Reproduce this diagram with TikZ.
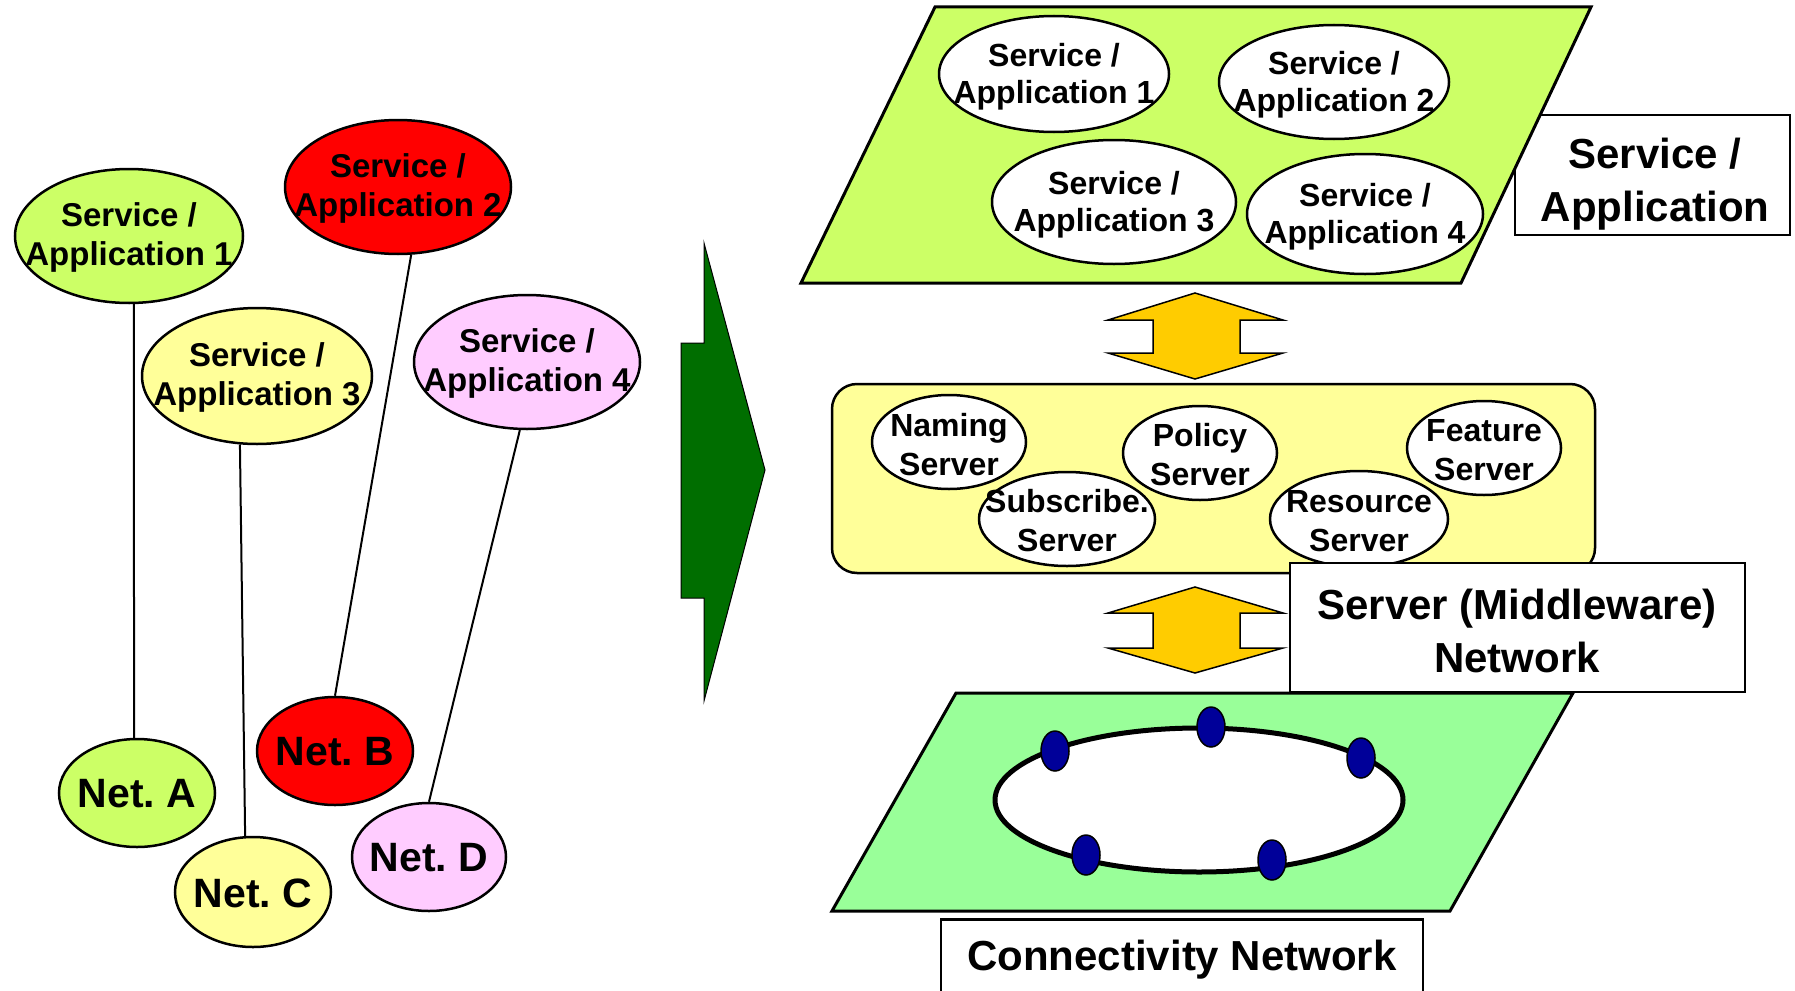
\documentclass[tikz,border=0pt]{standalone}
\usepackage{fontspec}
\setmainfont{Liberation Sans}
\usetikzlibrary{shapes.geometric}
\definecolor{limefill}{HTML}{CCFF66}
\definecolor{redfill}{HTML}{FF0000}
\definecolor{creamfill}{HTML}{FFFF99}
\definecolor{pinkfill}{HTML}{FFCCFF}
\definecolor{mintfill}{HTML}{99FF99}
\definecolor{ambfill}{HTML}{FFCC00}
\definecolor{navyfill}{HTML}{000099}
\definecolor{darkgreen}{HTML}{006E00}
\frenchspacing
\begin{document}
\begin{tikzpicture}[x=1pt,y=-1pt,
  bub/.style={ellipse, draw=black, line width=2.5pt, inner sep=0pt},
  lbl/.style={inner sep=0pt, align=center, font=\bfseries\fontsize{33}{39}\selectfont},
  rlbl/.style={inner sep=0pt, align=center, font=\bfseries\fontsize{32}{37}\selectfont},
  slbl/.style={inner sep=0pt, align=center, font=\bfseries\fontsize{32}{39}\selectfont},
  nlbl/.style={inner sep=0pt, font=\bfseries\fontsize{41}{41}\selectfont},
  blbl/.style={inner sep=0pt, align=center, font=\bfseries\fontsize{42}{53}\selectfont},
  labelbox/.style={draw=black, line width=2.5pt, fill=white, inner sep=0pt},
  conn/.style={line width=2pt},
  plane/.style={draw=black, line width=3pt},
  dbl/.style={draw=black, line width=1.5pt, fill=ambfill},
  hub/.style={ellipse, draw=black, line width=1.5pt, fill=navyfill, minimum width=28, minimum height=40, inner sep=0pt},
]
\useasboundingbox (0,0) rectangle (1795,990);

% ---------- left: one network per service ----------
\node[bub, fill=limefill, minimum width=228, minimum height=134] (sa1) at (129,236) {};
\node[lbl] (sa1t) at (129,237) {Service /\\Application 1};
\node[bub, fill=redfill, minimum width=226, minimum height=134] (sa2) at (398,187) {};
\node[lbl] (sa2t) at (398,188) {Service /\\Application 2};
\node[bub, fill=creamfill, minimum width=230, minimum height=136] (sa3) at (257,376) {};
\node[lbl] (sa3t) at (257,377) {Service /\\Application 3};
\node[bub, fill=pinkfill, minimum width=226, minimum height=134] (sa4) at (527,362) {};
\node[lbl] (sa4t) at (527,363) {Service /\\Application 4};

\node[bub, fill=limefill, minimum width=156, minimum height=108] (neta) at (137,793) {};
\node[nlbl] (netat) at (137,794) {Net. A};
\node[bub, fill=redfill, minimum width=156, minimum height=108] (netb) at (335,751) {};
\node[nlbl] (netbt) at (335,752) {Net. B};
\node[bub, fill=creamfill, minimum width=156, minimum height=110] (netc) at (253,892) {};
\node[nlbl] (netct) at (253,893) {Net. C};
\node[bub, fill=pinkfill, minimum width=154, minimum height=108] (netd) at (429,857) {};
\node[nlbl] (netdt) at (429,858) {Net. D};

\draw[conn] (sa1.274.3) -- (neta.93.2);
\draw[conn] (sa2.281.8) -- (netb.north);
\draw[conn] (sa3.256.6) -- (netc.98.4);
\draw[conn] (sa4.264) -- (netd.north);

% ---------- big transition arrow ----------
\filldraw[fill=darkgreen, draw=black, line width=1pt]
  (681,343) -- (704,343) -- (704,243) -- (765,470) -- (704,701) -- (704,598) -- (681,598) -- cycle;

% ---------- service / application layer ----------
\node[labelbox, minimum width=275, minimum height=120] (sabox) at (1652.5,175) {};
\filldraw[plane, fill=limefill] (935,7) -- (1591,7) -- (1461,283) -- (801,283) -- cycle;
\node[blbl] (saboxt) at (1655,184) {Service /\\Application};

\node[bub, fill=white, minimum width=230, minimum height=116] (rsa1) at (1054,74) {};
\node[rlbl] (rsa1t) at (1054,77) {Service /\\Application 1};
\node[bub, fill=white, minimum width=230, minimum height=114] (rsa2) at (1334,82) {};
\node[rlbl] (rsa2t) at (1334,85) {Service /\\Application 2};
\node[bub, fill=white, minimum width=244, minimum height=124] (rsa3) at (1114,202) {};
\node[rlbl] (rsa3t) at (1114,205) {Service /\\Application 3};
\node[bub, fill=white, minimum width=236, minimum height=120] (rsa4) at (1365,214) {};
\node[rlbl] (rsa4t) at (1365,217) {Service /\\Application 4};

% ---------- up/down exchange arrows ----------
\filldraw[dbl] (1195,293) -- (1283,320) -- (1240,320) -- (1240,353) -- (1283,353) -- (1195,379)
  -- (1108,353) -- (1153,353) -- (1153,320) -- (1108,320) -- cycle;
\filldraw[dbl] (1195,587) -- (1283,613) -- (1240,613) -- (1240,648) -- (1283,648) -- (1195,673)
  -- (1108,648) -- (1153,648) -- (1153,613) -- (1108,613) -- cycle;

% ---------- server (middleware) layer ----------
\filldraw[draw=black, line width=2.5pt, fill=creamfill, rounded corners=25pt] (832,384) rectangle (1595,573);
\node[bub, fill=white, minimum width=154, minimum height=94] (naming) at (949,442) {};
\node[slbl] (namingt) at (949,445) {Naming\\Server};
\node[bub, fill=white, minimum width=154, minimum height=94] (policy) at (1200,453) {};
\node[slbl] (policyt) at (1200,455) {Policy\\Server};
\node[bub, fill=white, minimum width=154, minimum height=94] (feature) at (1484,448) {};
\node[slbl] (featuret) at (1484,450) {Feature\\Server};
\node[bub, fill=white, minimum width=176, minimum height=94] (subscr) at (1067,519) {};
\node[slbl] (subscrt) at (1067,521) {Subscribe.\\Server};
\node[bub, fill=white, minimum width=178, minimum height=96] (resource) at (1359,519) {};
\node[slbl] (resourcet) at (1359,521) {Resource\\Server};

\node[labelbox, minimum width=455, minimum height=129] (srvbox) at (1517.5,627.5) {};
\node[blbl] (srvboxt) at (1517,631) {Server (Middleware)\\Network};

% ---------- connectivity layer ----------
\filldraw[plane, fill=mintfill] (956,693) -- (1573,693) -- (1450,911) -- (832,911) -- cycle;
\node[ellipse, draw=black, line width=5pt, fill=white, minimum width=408, minimum height=144, inner sep=0pt] (ring) at (1199,800) {};
\node[hub] (h1) at (1055,751) {};
\node[hub] (h2) at (1211,727) {};
\node[hub] (h3) at (1361,758) {};
\node[hub] (h4) at (1086,855) {};
\node[hub] (h5) at (1272,860) {};

\node[labelbox, minimum width=482, minimum height=110, anchor=north] (connbox) at (1182,918) {};
\node[nlbl, font=\bfseries\fontsize{42}{42}\selectfont] (connboxt) at (1182,960) {Connectivity Network};
\end{tikzpicture}
\end{document}
